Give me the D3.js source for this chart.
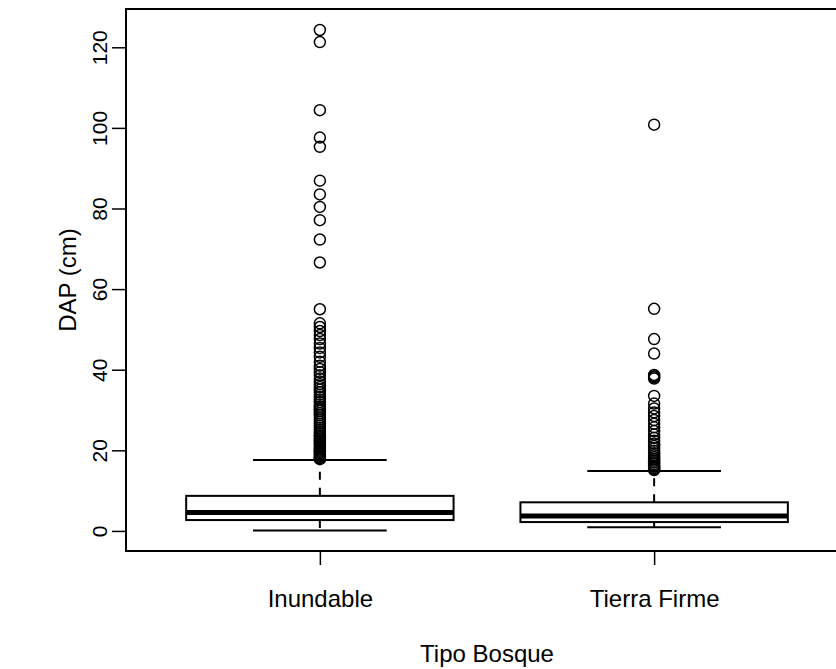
<!DOCTYPE html>
<html>
<head>
<meta charset="utf-8">
<script src="https://cdn.jsdelivr.net/npm/d3@7"></script>
<style>
  body { margin: 0; background: #fff; }
  svg { display: block; font-family: "Liberation Sans", Arial, sans-serif; }
</style>
</head>
<body>
<script>
// categories and five-number summaries
var categories = ["Inundable", "Tierra Firme"];
var lowerWhisker = [0.1, 0.9];
var q1 = [2.7, 2.2];
var medians = [4.6, 3.7];
var q3 = [8.7, 7.1];
var upperWhisker = [17.6, 14.9];

var outInundable = [124.3, 121.3, 104.4, 97.6, 95.3, 86.9, 83.5, 80.4, 77.1, 72.3, 66.6,
    55.0, 51.5, 50.6, 49.6, 48.6, 47.6, 46.5, 45.4, 44.3, 43.2, 42.0, 41.0, 40.2, 39.4,
    38.6, 37.8, 37.1, 36.4, 35.7, 35.0, 34.4, 33.8, 33.2, 32.6, 32.0, 31.4, 30.8, 30.3,
    29.8, 29.2, 28.7, 28.1, 27.6, 27.1, 26.6, 26.1, 25.6, 25.1, 24.6, 24.2, 23.7, 23.3,
    22.9, 22.5, 22.1, 21.7, 21.3, 20.9, 20.5, 20.2, 19.9, 19.6, 19.3, 19.0, 18.7, 18.4,
    18.2, 18.0, 17.8];
var outTierra = [100.8, 55.1, 47.6, 44.0, 38.7, 38.4, 38.1, 37.8, 33.5, 31.6, 30.4, 29.4,
    28.5, 27.5, 26.6, 25.7, 24.8, 23.9, 23.1, 22.4, 21.7, 21.1, 20.5, 19.9, 19.3, 18.8,
    18.3, 17.8, 17.4, 17.0, 16.6, 16.2, 15.9, 15.6, 15.3, 15.1];
var outliers = [outInundable, outTierra];

var yTicks = [0, 20, 40, 60, 80, 100, 120];
var xTitle = "Tipo Bosque";
var yTitle = "DAP (cm)";

var W = 836, H = 669;
var svg = d3.select("body").append("svg")
    .attr("width", W)
    .attr("height", H);

// plot region (right edge falls outside the picture, as in the original)
var pLeft = 126, pRight = 848, pTop = 9, pBottom = 551;

var x = d3.scaleLinear().domain([0.42, 2.58]).range([pLeft, pRight]);
var y = d3.scaleLinear().domain([-4.98, 129.5]).range([pBottom, pTop]);

var boxHalf = 0.4, capHalf = 0.2;

var g = svg.append("g");

categories.forEach(function(c, i) {
    var cx = x(i + 1);
    var bg = g.append("g").attr("class", "box");

    // dashed whiskers
    bg.append("line")
        .attr("x1", cx).attr("x2", cx)
        .attr("y1", y(q3[i])).attr("y2", y(upperWhisker[i]))
        .attr("stroke", "#000").attr("stroke-width", 2)
        .attr("stroke-dasharray", "8,8");
    bg.append("line")
        .attr("x1", cx).attr("x2", cx)
        .attr("y1", y(q1[i])).attr("y2", y(lowerWhisker[i]))
        .attr("stroke", "#000").attr("stroke-width", 2)
        .attr("stroke-dasharray", "8,8");

    // staples
    [lowerWhisker[i], upperWhisker[i]].forEach(function(v) {
        bg.append("line")
            .attr("x1", x(i + 1 - capHalf)).attr("x2", x(i + 1 + capHalf))
            .attr("y1", y(v)).attr("y2", y(v))
            .attr("stroke", "#000").attr("stroke-width", 2);
    });

    // box
    bg.append("rect")
        .attr("x", x(i + 1 - boxHalf))
        .attr("y", y(q3[i]))
        .attr("width", x(i + 1 + boxHalf) - x(i + 1 - boxHalf))
        .attr("height", y(q1[i]) - y(q3[i]))
        .attr("fill", "#fff")
        .attr("stroke", "#000").attr("stroke-width", 2);

    // median
    bg.append("line")
        .attr("x1", x(i + 1 - boxHalf)).attr("x2", x(i + 1 + boxHalf))
        .attr("y1", y(medians[i])).attr("y2", y(medians[i]))
        .attr("stroke", "#000").attr("stroke-width", 5);

    // outliers
    bg.selectAll("circle")
        .data(outliers[i])
        .enter().append("circle")
        .attr("cx", cx)
        .attr("cy", function(d) { return y(d); })
        .attr("r", 5.5)
        .attr("fill", "none")
        .attr("stroke", "#000")
        .attr("stroke-width", 1.5);
});

// frame
svg.append("rect")
    .attr("x", pLeft).attr("y", pTop)
    .attr("width", pRight - pLeft).attr("height", pBottom - pTop)
    .attr("fill", "none")
    .attr("stroke", "#000").attr("stroke-width", 2);

// y axis
var yAxis = svg.append("g")
    .attr("transform", "translate(" + pLeft + ",0)")
    .call(d3.axisLeft(y).tickValues(yTicks).tickSize(14).tickSizeOuter(0).tickPadding(0));
yAxis.select(".domain").remove();
yAxis.selectAll(".tick line").attr("stroke-width", 1.5);
yAxis.selectAll(".tick text")
    .attr("x", 0).attr("dy", null)
    .attr("transform", "translate(-19,0) rotate(-90)")
    .attr("text-anchor", "middle")
    .attr("font-size", 21)
    .attr("font-family", "Liberation Sans, Arial, sans-serif")
    .attr("fill", "#000");

// x axis
var xs = d3.scalePoint().domain(categories).range([x(1), x(2)]);
var xAxis = svg.append("g")
    .attr("transform", "translate(0," + pBottom + ")")
    .call(d3.axisBottom(xs).tickSize(14).tickSizeOuter(0).tickPadding(0));
xAxis.select(".domain").remove();
xAxis.selectAll(".tick line").attr("stroke-width", 1.5);
xAxis.selectAll(".tick text")
    .attr("y", 56).attr("dy", null)
    .attr("font-size", 24)
    .attr("font-family", "Liberation Sans, Arial, sans-serif")
    .attr("fill", "#000");

// axis titles
svg.append("text")
    .attr("x", (pLeft + pRight) / 2).attr("y", 662)
    .attr("text-anchor", "middle")
    .attr("font-size", 24)
    .text(xTitle);

svg.append("text")
    .attr("transform", "translate(76," + ((pTop + pBottom) / 2) + ") rotate(-90)")
    .attr("text-anchor", "middle")
    .attr("font-size", 24)
    .text(yTitle);
</script>
</body>
</html>
